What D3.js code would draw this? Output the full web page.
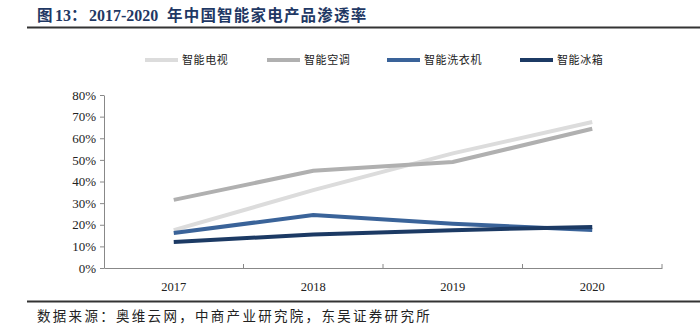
<!DOCTYPE html>
<html><head><meta charset="utf-8">
<script src="https://cdn.jsdelivr.net/npm/d3@7"></script>
<style>body{margin:0;background:#fff}svg{display:block}</style>
</head><body>
<svg id="c" width="700" height="326"></svg>
<script>
const years = ["2017","2018","2019","2020"];
const seriesNames = ["智能电视","智能空调","智能洗衣机","智能冰箱"];
const tvValues = [17.5, 36, 53, 67.5];
const acValues = [31.5, 45, 49, 64.4];
const washerValues = [16.2, 24.5, 20.5, 17.6];
const fridgeValues = [12, 15.5, 17.5, 19];
const yTicks = [0,10,20,30,40,50,60,70,80];
const colors = ["#dcdcdc","#b0b0b0","#3a6399","#1c3a64"];
const allValues = [tvValues, acValues, washerValues, fridgeValues];

const svg = d3.select("#c");
const cjk = "'Noto Sans CJK SC', sans-serif";
const serif = "'Liberation Serif','Times New Roman', serif";

// title
const t = svg.append("text").attr("y",21)
  .style("font-family", serif + "," + cjk).attr("font-weight","bold")
  .attr("font-size",15.5).attr("fill","#1f3864");
t.append("tspan").attr("x",37).style("font-family",cjk).text("图");
t.append("tspan").attr("x",55).attr("font-size",16).text("13");
t.append("tspan").style("font-family",cjk).text("：");
t.append("tspan").attr("x",89).attr("font-size",16).text("2017-2020");
t.append("tspan").attr("x",167).style("font-family",cjk).attr("letter-spacing",1.2).text("年中国智能家电产品渗透率");

svg.append("line").attr("x1",27).attr("x2",700).attr("y1",27.5).attr("y2",27.5)
  .attr("stroke","#333").attr("stroke-width",2);
svg.append("line").attr("x1",27).attr("x2",700).attr("y1",301.5).attr("y2",301.5)
  .attr("stroke","#333").attr("stroke-width",2);
svg.append("text").attr("x",37).attr("y",321)
  .style("font-family", cjk).attr("font-size",13.5).attr("letter-spacing",2.3).attr("fill","#222")
  .text("数据来源：奥维云网，中商产业研究院，东吴证券研究所");

const x = d3.scaleBand().domain(years).range([104,662]);
const y = d3.scaleLinear().domain([0,80]).range([268,95]);

const yAxis = svg.append("g").attr("transform","translate(104,0)")
  .call(d3.axisLeft(y).tickValues(yTicks).tickFormat(d=>d+"%").tickSize(4).tickSizeOuter(0));
yAxis.select(".domain").attr("stroke","#888");
yAxis.selectAll(".tick line").attr("stroke","#888");
yAxis.selectAll("text").style("font-family",serif).attr("font-size",13).attr("fill","#222").attr("x",-8);

const xAxis = svg.append("g").attr("transform","translate(0,268)")
  .call(d3.axisBottom(x).tickSize(0).tickSizeOuter(0));
xAxis.select(".domain").attr("stroke","#888");
xAxis.selectAll("text").style("font-family",serif).attr("font-size",12.5).attr("fill","#222").attr("dy","1.6em");
// boundary ticks
const bounds = years.map(d=>x(d)).concat([x(years[years.length-1])+x.bandwidth()]).slice(1);
svg.append("g").selectAll("line").data(bounds).join("line")
  .attr("x1",d=>d).attr("x2",d=>d).attr("y1",264).attr("y2",268)
  .attr("stroke","#888");

const line = d3.line().x((d,i)=>x(years[i])+x.bandwidth()/2).y(d=>y(d));
svg.append("g").selectAll("path").data(allValues).join("path")
  .attr("d",d=>line(d)).attr("fill","none")
  .attr("stroke",(d,i)=>colors[i]).attr("stroke-width",4);

// legend
const legX = [145,267,387,520];
const leg = svg.append("g").selectAll("g").data(seriesNames).join("g")
  .attr("transform",(d,i)=>`translate(${legX[i]},60)`);
leg.append("line").attr("x1",0).attr("x2",33).attr("y1",0).attr("y2",0)
  .attr("stroke",(d,i)=>colors[i]).attr("stroke-width",4);
leg.append("text").attr("x",37).attr("y",4).style("font-family",cjk)
  .attr("font-size",11).attr("letter-spacing",0.6).attr("fill","#222").text(d=>d);
</script>
</body></html>
